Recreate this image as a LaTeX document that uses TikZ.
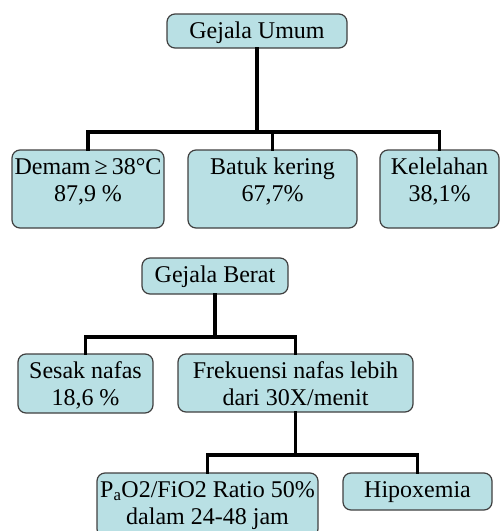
\documentclass[tikz,border=0pt]{standalone}
\usepackage{fontspec}
\setmainfont{Liberation Serif}
\usepackage{tikz}
\usetikzlibrary{calc}
\definecolor{pastelblue}{HTML}{B9E0E4}
\definecolor{boxgray}{HTML}{404040}
\newcommand{\boxtext}[3]{\parbox[c][#2pt][t]{#1pt}{\centering\rule{0pt}{24pt}#3}}
\tikzset{
	gbox/.style={draw=boxgray, line width=1.2pt, fill=pastelblue, rounded corners=8pt, inner sep=0pt, font=\fontsize{24}{27}\selectfont},
	tline/.style={line width=3.5pt, line cap=rect, line join=miter}
}

\begin{document}
\begin{tikzpicture}[x=1pt, y=-1pt]
		\useasboundingbox (0,0) rectangle (500,531);
		\coordinate (barA) at (0,132);
		\coordinate (barB) at (0,337);
		\coordinate (barC) at (0,455);
		
		% gejala umum
		\node[gbox] (umum) at (257,31) {\boxtext{180}{34}{Gejala Umum}};
		\node[gbox] (demam) at (88,189) {\boxtext{152}{78}{Demam\,≥\,38°C\\87,9 \%}};
		\node[gbox] (batuk) at (272.5,189) {\boxtext{169}{78}{Batuk kering\\67,7\%}};
		\node[gbox] (kelel) at (439.5,189) {\boxtext{119}{78}{Kelelahan\\38,1\%}};
		
		\draw[tline] (umum.south) -- (umum.south |- barA);
		\draw[tline] (demam.north) |- (kelel.north |- barA) -- (kelel.north);
		\draw[tline] (batuk.north) -- (batuk.north |- barA);
		
		% gejala berat
		\node[gbox] (berat) at (215,276) {\boxtext{146}{36}{Gejala Berat}};
		\node[gbox] (sesak) at (85.5,383.5) {\boxtext{135}{59}{Sesak nafas\\18,6 \%}};
		\node[gbox] (freq) at (295.5,383) {\boxtext{235}{58}{Frekuensi nafas lebih\\dari 30X/menit}};
		
		\draw[tline] (berat.south) -- (berat.south |- barB);
		\draw[tline] (sesak.north) |- (freq.north |- barB) -- (freq.north);
		
		\node[gbox] (pao) at (207.5,505) {\boxtext{221}{64}{P\textsubscript{a}O2/FiO2 Ratio 50\%\\dalam 24-48 jam}};
		\node[gbox] (hipox) at (417.5,491.5) {\boxtext{149}{37}{Hipoxemia}};
		
		\draw[tline] (freq.south) -- (freq.south |- barC);
		\draw[tline] (pao.north) |- (hipox.north |- barC) -- (hipox.north);
		
\end{tikzpicture}
\end{document}
